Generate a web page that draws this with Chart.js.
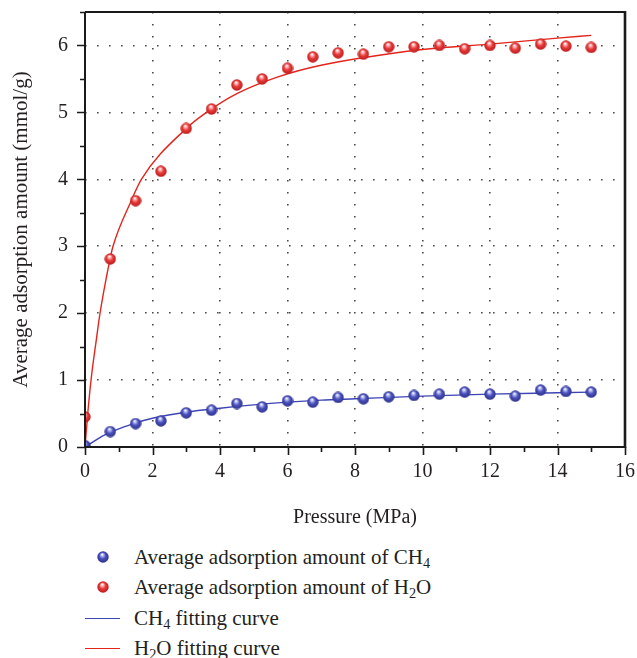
<!DOCTYPE html>
<html><head><meta charset="utf-8">
<script src="https://cdn.jsdelivr.net/npm/chart.js@4.4.1/dist/chart.umd.min.js"></script>
<style>
html,body{margin:0;padding:0;background:#fff;width:637px;height:658px;overflow:hidden;}
#wrap{position:relative;width:637px;height:658px;}
#c{position:absolute;left:0;top:0;}
.row{position:absolute;left:0;width:637px;height:30px;font-family:"Liberation Serif",serif;font-size:21px;color:#231f20;white-space:nowrap;}
.row .txt{position:absolute;left:134px;top:0;height:30px;line-height:30px;}
.row sub{font-size:0.68em;vertical-align:-0.3em;line-height:0;}
.row img{position:absolute;left:97px;top:9px;}
.row .ln{position:absolute;left:85px;width:35px;top:15px;height:0;border-top:1.3px solid;}
</style></head><body>
<div id="wrap"><canvas id="c" width="637" height="540"></canvas><div id="legend"></div></div>
<script>
// ---- data ----
const pressure = [0,0.75,1.5,2.25,3,3.75,4.5,5.25,6,6.75,7.5,8.25,9,9.75,10.5,11.25,12,12.75,13.5,14.25,15];
const ch4Avg = [0.02,0.23,0.35,0.39,0.51,0.55,0.65,0.60,0.69,0.67,0.74,0.72,0.75,0.77,0.79,0.82,0.79,0.76,0.85,0.83,0.82];
const h2oAvg = [0.45,2.81,3.68,4.12,4.76,5.05,5.41,5.50,5.66,5.83,5.89,5.87,5.98,5.98,6.00,5.95,6.00,5.96,6.02,5.99,5.97];
const ch4FitX = [0,0.25,0.5,0.75,1,1.5,2,3,4,5,6,7,8,10,12,14,15];
const ch4FitY = [0,0.08,0.16,0.22,0.27,0.36,0.43,0.52,0.58,0.63,0.67,0.70,0.72,0.76,0.79,0.81,0.82];
const h2oFitX = [0,0.09,0.19,0.34,0.43,0.73,0.83,1.37,1.67,3,3.6,4.5,5.72,6.96,10,12,14,15];
const h2oFitY = [0,0.55,1.05,1.62,1.95,2.78,3.0,3.68,4.0,4.76,5.0,5.28,5.53,5.70,5.94,6.02,6.11,6.15];
const xTickValues = [0,2,4,6,8,10,12,14,16];
const yTickValues = [0,1,2,3,4,5,6];
const seriesLabels = [
  'Average adsorption amount of CH<sub>4</sub>',
  'Average adsorption amount of H<sub>2</sub>O',
  'CH<sub>4</sub> fitting curve',
  'H<sub>2</sub>O fitting curve'
];
const seriesPlain = ['Average adsorption amount of CH₄','Average adsorption amount of H₂O','CH₄ fitting curve','H₂O fitting curve'];

const FONT = '"Liberation Serif", serif';
const TXT = '#231f20';

function sphere(body, hi, dark, d) {
  const c = document.createElement('canvas');
  c.width = d; c.height = d;
  const g = c.getContext('2d');
  const r = d / 2;
  const grad = g.createRadialGradient(r * 0.85, r * 0.55, r * 0.05, r, r, r);
  grad.addColorStop(0, '#ffffff');
  grad.addColorStop(0.18, hi);
  grad.addColorStop(0.5, body);
  grad.addColorStop(1, dark);
  g.fillStyle = grad;
  g.beginPath(); g.arc(r, r, r - 0.3, 0, Math.PI * 2); g.fill();
  return c;
}
const blueBall = sphere('#4b52bd', '#b8bcf2', '#2b2f86', 12);
const redBall = sphere('#ea3a3a', '#ffb8b8', '#b51a1a', 12);

const pts = (xs, ys) => xs.map((x, i) => ({x: x, y: ys[i]}));

const frame = {
  id: 'frame',
  afterDraw(chart) {
    const {ctx, chartArea: a} = chart;
    const xs = chart.scales.x, ys = chart.scales.y;
    ctx.save();
    ctx.setLineDash([]);
    ctx.strokeStyle = '#1a1a1a';
    ctx.lineWidth = 1.6;
    ctx.beginPath();
    for (let v = 0; v <= 16; v++) {
      const p = Math.round(xs.getPixelForValue(v)) + 0.5;
      const len = v % 2 === 0 ? 8 : 5;
      ctx.moveTo(p, a.bottom); ctx.lineTo(p, a.bottom + len);
    }
    for (let v = 0; v <= 6.5; v += 0.5) {
      const p = Math.round(ys.getPixelForValue(v)) + 0.5;
      const len = Number.isInteger(v) ? 8 : 5;
      ctx.moveTo(a.left, p); ctx.lineTo(a.left - len, p);
    }
    ctx.stroke();
    ctx.lineWidth = 2;
    ctx.beginPath();
    ctx.moveTo(a.left, a.top); ctx.lineTo(a.left, a.bottom); ctx.lineTo(a.right, a.bottom);
    ctx.moveTo(a.left, a.top); ctx.lineTo(a.right, a.top);
    ctx.stroke();
    ctx.lineWidth = 2.6;
    ctx.beginPath();
    ctx.moveTo(a.right, a.top - 1); ctx.lineTo(a.right, a.bottom + 1);
    ctx.stroke();
    ctx.restore();
  }
};

const gridCfg = (edgeVals) => ({
  drawTicks: false,
  lineWidth: 1.6,
  color: (c) => (c.tick && edgeVals.includes(c.tick.value)) ? 'rgba(0,0,0,0)' : '#4a4a4a'
});

function fixFit(size, horiz) {
  return function (scale) {
    if (horiz) scale.height = size; else scale.width = size;
    scale.paddingTop = 0; scale.paddingBottom = 0; scale.paddingLeft = 0; scale.paddingRight = 0;
  };
}

const chart = new Chart(document.getElementById('c'), {
  data: {
    datasets: [
      {type: 'scatter', label: seriesPlain[0], data: pts(pressure, ch4Avg), pointStyle: blueBall, pointRadius: 6, pointHoverRadius: 6, backgroundColor: '#4b52bd', borderColor: '#4b52bd'},
      {type: 'scatter', label: seriesPlain[1], data: pts(pressure, h2oAvg), pointStyle: redBall, pointRadius: 6, pointHoverRadius: 6, backgroundColor: '#ea3a3a', borderColor: '#ea3a3a'},
      {type: 'line', label: seriesPlain[2], data: pts(ch4FitX, ch4FitY), borderColor: '#3d45b5', borderWidth: 1.4, pointRadius: 0, cubicInterpolationMode: 'monotone', fill: false},
      {type: 'line', label: seriesPlain[3], data: pts(h2oFitX, h2oFitY), borderColor: '#e3241b', borderWidth: 1.4, pointRadius: 0, cubicInterpolationMode: 'monotone', fill: false}
    ]
  },
  options: {
    responsive: false,
    devicePixelRatio: 1,
    animation: false,
    layout: {padding: {left: 0, right: 12, top: 12, bottom: 0}},
    plugins: {legend: {display: false}, tooltip: {enabled: false}},
    scales: {
      x: {
        type: 'linear', min: 0, max: 16,
        afterBuildTicks: (s) => { s.ticks = xTickValues.map(v => ({value: v})); },
        afterFit: fixFit(93, true),
        ticks: {padding: 13, color: TXT, font: {family: FONT, size: 20}, maxRotation: 0, autoSkip: false},
        grid: gridCfg([0, 16]),
        border: {display: false, dash: [1.6, 10.4]},
        title: {display: true, text: 'Pressure (MPa)', color: TXT, font: {family: FONT, size: 20}, padding: {top: 0, bottom: 10}}
      },
      y: {
        type: 'linear', min: 0, max: 6.5,
        afterBuildTicks: (s) => { s.ticks = yTickValues.map(v => ({value: v})); },
        afterFit: fixFit(85, false),
        ticks: {padding: 17, color: TXT, font: {family: FONT, size: 20}, autoSkip: false},
        grid: gridCfg([0]),
        border: {display: false, dash: [1.6, 10.4]},
        title: {display: true, text: 'Average adsorption amount (mmol/g)', color: TXT, font: {family: FONT, size: 21}, padding: {top: 9, bottom: 0}}
      }
    }
  },
  plugins: [frame]
});

// HTML legend built from the chart's datasets
const leg = document.getElementById('legend');
chart.data.datasets.forEach((ds, i) => {
  const row = document.createElement('div');
  row.className = 'row';
  row.style.top = (542 + i * 30.4) + 'px';
  if (ds.type === 'scatter') {
    const img = document.createElement('img');
    img.src = ds.pointStyle.toDataURL();
    img.width = 12; img.height = 12;
    row.appendChild(img);
  } else {
    const ln = document.createElement('div');
    ln.className = 'ln';
    ln.style.borderTopColor = ds.borderColor;
    row.appendChild(ln);
  }
  const t = document.createElement('span');
  t.className = 'txt';
  t.innerHTML = seriesLabels[i];
  row.appendChild(t);
  leg.appendChild(row);
});
</script>
</body></html>
